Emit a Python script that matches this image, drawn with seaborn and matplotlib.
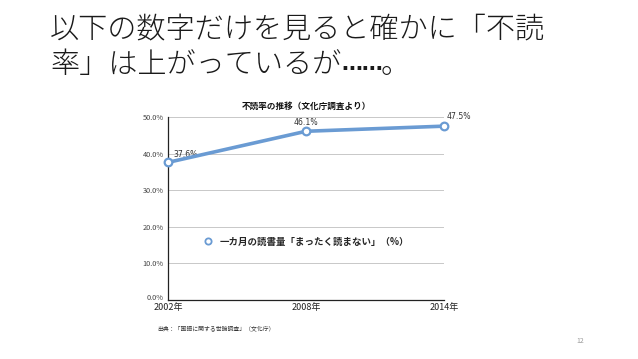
import matplotlib
matplotlib.use("Agg")
import matplotlib.pyplot as plt
import matplotlib.transforms as mtransforms
import seaborn as sns
import pandas as pd
from matplotlib.ticker import FuncFormatter

years = [2002, 2008, 2014]
year_labels = ["2002年", "2008年", "2014年"]
rates = [37.6, 46.1, 47.5]
yticks = [0, 10, 20, 30, 40, 50]
series_name = "一カ月の読書量「まったく読まない」（%）"

sns.set_theme(style="white")
plt.rcParams['font.family'] = ['Noto Sans CJK JP', 'DejaVu Sans']

df = pd.DataFrame({"year": years, "rate": rates, "series": series_name})

fig = plt.figure(figsize=(6.38, 3.59), dpi=100)
ax = fig.add_axes([168/638, 1-300/359, (444-168)/638, (300-117)/359])

blue = "#6a9bd3"
sns.lineplot(data=df, x="year", y="rate", hue="series", palette=[blue], ax=ax,
             linewidth=2.6, marker="o", markersize=5.5, markerfacecolor="white",
             markeredgecolor=blue, markeredgewidth=1.6, clip_on=False, zorder=5)

ax.set_xlim(2002, 2014)
ax.set_ylim(0, 50)
ax.set_yticks(yticks)
ax.yaxis.set_major_formatter(FuncFormatter(lambda v, p: f"{v:.1f}%"))
ax.set_xticks(years)
ax.set_xticklabels(year_labels)
ax.tick_params(axis='y', labelsize=5.3, length=0, pad=3, colors="#444444")
ax.tick_params(axis='x', labelsize=6.5, length=0, pad=2, colors="#222222")
ax.grid(axis='y', color="#c8c8c8", linewidth=0.7)
ax.set_axisbelow(True)
for s in ["top", "right"]:
    ax.spines[s].set_visible(False)
for s in ["left", "bottom"]:
    ax.spines[s].set_color("#222222")
    ax.spines[s].set_linewidth(0.9)
ax.set_xlabel("")
ax.set_ylabel("")

# lift the 0.0% label slightly, as in the reference
ylabels = ax.get_yticklabels()
ylabels[0].set_transform(ylabels[0].get_transform() +
                         mtransforms.ScaledTranslation(0, 2.5/100, fig.dpi_scale_trans))

offsets = [(4, 6, "left"), (0, 6.5, "center"), (2, 7, "left")]
for x, y, (dx, dy, ha) in zip(years, rates, offsets):
    ax.annotate(f"{y:.1f}%", (x, y), xytext=(dx, dy), textcoords="offset points",
                ha=ha, va="center", fontsize=5.6, color="#333333", family=['DejaVu Sans'])

ax.set_title("不読率の推移（文化庁調査より）", fontsize=6.2, fontweight="bold",
             color="#111111", pad=6)

leg = ax.legend(loc="center", bbox_to_anchor=(0.5, 0.32), frameon=False,
                fontsize=6.8, handlelength=1.2, handletextpad=0.6)
for t in leg.get_texts():
    t.set_fontweight("bold")
for h in leg.legend_handles:
    h.set_linestyle("None")
    h.set_markersize(4.5)
    h.set_markeredgewidth(1.3)

fig.text(50/638, 1-30/359, "以下の数字だけを見ると確かに「不読", fontsize=21,
         color="#1a1a1a", va="center", ha="left", fontweight="light")
t1 = fig.text(50/638, 1-65/359, "率」は上がっているが", fontsize=21,
              color="#1a1a1a", va="center", ha="left", fontweight="light")
fig.canvas.draw()
r = fig.canvas.get_renderer()
bb = t1.get_window_extent(r)
t2 = fig.text(bb.x1/fig.bbox.width, 1-65/359, "……", fontsize=15,
              color="#1a1a1a", va="center", ha="left", family=['DejaVu Sans'],
              fontweight="bold")
t2.set_transform(fig.transFigure + mtransforms.ScaledTranslation(0, 1/100, fig.dpi_scale_trans))
fig.canvas.draw()
bb2 = t2.get_window_extent(r)
fig.text(bb2.x1/fig.bbox.width - 2/638, 1-65/359, "。", fontsize=21,
         color="#1a1a1a", va="center", ha="left", fontweight="light")

fig.text(157/638, 1-328/359, "出典：「国語に関する世論調査」（文化庁）", fontsize=4.2,
         color="#333333", va="center", ha="left")
fig.text(580/638, 1-341/359, "12", fontsize=5, color="#999999", va="center", ha="center")

fig.savefig("out.png", dpi=100)
